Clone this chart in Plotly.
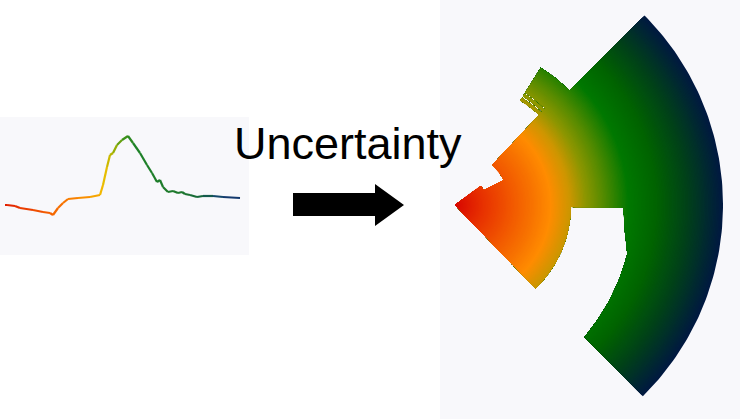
import numpy as np
import plotly.graph_objects as go
from plotly.colors import sample_colorscale

# ---------------- data ----------------
# left: time series (time step, value)
series_t = [0, 2, 10, 15, 28, 38, 45, 48, 53, 58, 63, 73, 85, 95, 98, 102, 105, 108,
            112, 117, 123, 128, 135, 142, 147, 152, 155, 158, 163, 168, 173, 177, 180,
            185, 192, 198, 208, 218, 235]
series_v = [15, 15, 14, 12, 10, 8, 7, 5, 12, 17, 21, 22, 23, 25, 35, 53, 65, 67,
            75, 80, 84, 77, 67, 55, 47, 38, 40, 33, 28, 29, 27, 28, 26,
            25, 23, 24, 24, 23, 22]

line_scale = [[0.00, "rgb(225,30,0)"], [0.20, "rgb(245,100,0)"], [0.36, "rgb(250,150,0)"],
              [0.42, "rgb(240,190,0)"], [0.46, "rgb(170,180,0)"], [0.50, "rgb(70,150,20)"],
              [0.55, "rgb(30,130,40)"], [0.75, "rgb(30,120,45)"], [0.84, "rgb(20,100,60)"],
              [0.91, "rgb(20,70,110)"], [1.00, "rgb(20,50,110)"]]

# right: uncertainty fan, angular bounds (deg) against radius (outer radius = 100)
upper_r = [0, 12, 12, 20.5, 20.5, 46, 46, 47.2, 47.2, 47.8, 47.8, 48.9, 48.9, 49.4, 49.4, 60.4, 60.4, 100]
upper_a = [37, 37, 27, 27, 47, 47, 58, 58, 47, 47, 58, 58, 47, 47, 58, 58, 45, 45]
lower_r = [0, 43.3, 43.3, 62.7, 64.2, 66.8, 67.5, 68.3, 69.0, 100]
lower_a = [-46, -46, -1, -1, -9, -16, -29, -39, -45.5, -45.5]

fan_scale = [[0.00, "rgb(215,5,0)"], [0.11, "rgb(232,50,0)"], [0.22, "rgb(242,90,0)"],
             [0.30, "rgb(248,118,0)"], [0.36, "rgb(255,140,0)"], [0.43, "rgb(205,150,0)"],
             [0.49, "rgb(140,150,0)"], [0.55, "rgb(90,140,0)"], [0.65, "rgb(0,120,0)"],
             [0.75, "rgb(0,100,0)"], [0.87, "rgb(0,65,25)"], [1.00, "rgb(0,25,65)"]]

title_text = "Uncertainty"

# ---------------- helpers ----------------
def seg(p0, p1):
    """points from p0 (excluded) to p1 (included), straight in polar (r, angle) space"""
    n = max(1, int(abs(p1[1] - p0[1]) / 1.0) + 1)
    return [(p0[0] + (p1[0] - p0[0]) * k / n, p0[1] + (p1[1] - p0[1]) * k / n)
            for k in range(1, n + 1)]


def boundary(rs, angs, rc):
    pts = [(rs[0], angs[0])]
    for i in range(1, len(rs)):
        r0, a0 = rs[i - 1], angs[i - 1]
        r1, a1 = rs[i], angs[i]
        if r1 > rc:
            if r1 != r0 and r0 < rc:
                f = (rc - r0) / (r1 - r0)
                pts += seg((r0, a0), (rc, a0 + f * (a1 - a0)))
            break
        pts += seg((r0, a0), (r1, a1))
    return pts


def to_xy(pts):
    r = np.array([p[0] for p in pts])
    a = np.radians([p[1] for p in pts])
    return r * np.cos(a), r * np.sin(a)


fig = go.Figure()

# left line, coloured along time
tmax = series_t[-1]
for i in range(len(series_t) - 1):
    mid = (series_t[i] + series_t[i + 1]) / 2 / tmax
    col = sample_colorscale(line_scale, [mid])[0]
    fig.add_trace(go.Scatter(x=series_t[i:i + 2], y=series_v[i:i + 2], mode="lines",
                             line=dict(color=col, width=2.2), hoverinfo="skip",
                             showlegend=False, xaxis="x", yaxis="y"))

# fan: nested cut-offs drawn from outside in, each filled with the colour at its radius
cuts = np.arange(100, 0, -0.5)
for rc in cuts:
    up = boundary(upper_r, upper_a, rc)
    lo = boundary(lower_r, lower_a, rc)
    arc = seg(up[-1], lo[-1])[:-1]
    poly = up + arc + lo[::-1]
    x, y = to_xy(poly)
    col = sample_colorscale(fan_scale, [rc / 100])[0]
    fig.add_trace(go.Scatter(x=x, y=y, mode="lines", fill="toself", fillcolor=col,
                             line=dict(width=0, color=col), hoverinfo="skip",
                             showlegend=False, xaxis="x2", yaxis="y2"))

W, H = 740, 419
def px(xp, yp):
    return xp / W, 1 - yp / H

arrow = [(293, 193), (375, 193), (375, 184), (404, 205), (375, 226), (375, 216), (293, 216)]
path = "M " + " L ".join("%.5f,%.5f" % px(a, b) for a, b in arrow) + " Z"

ax_common = dict(visible=False, fixedrange=True, showgrid=False, zeroline=False)
fig.update_layout(
    width=W, height=H,
    margin=dict(l=0, r=0, t=0, b=0),
    paper_bgcolor="white",
    plot_bgcolor="#f8f8fb",
    showlegend=False,
    xaxis=dict(domain=[0, 249 / W], range=[-5, 244], **ax_common),
    yaxis=dict(domain=[1 - 255 / H, 1 - 117 / H], range=[-35, 103], **ax_common),
    xaxis2=dict(domain=[440 / W, 1], range=[-15 / 2.68, 285 / 2.68], anchor="y2", **ax_common),
    yaxis2=dict(domain=[0, 1], range=[-214 / 2.68, 205 / 2.68], anchor="x2", **ax_common),
    shapes=[dict(type="path", xref="paper", yref="paper", path=path,
                 fillcolor="black", line=dict(width=0))],
    annotations=[dict(text=title_text, xref="paper", yref="paper",
                      x=347.5 / W, y=1 - 143 / H, xanchor="center", yanchor="middle",
                      showarrow=False,
                      font=dict(family="Liberation Sans, Arial", size=45, color="black"))],
)

fig.write_html("out.html", config={"displayModeBar": False},
               post_script="document.body.style.margin='0px';")
